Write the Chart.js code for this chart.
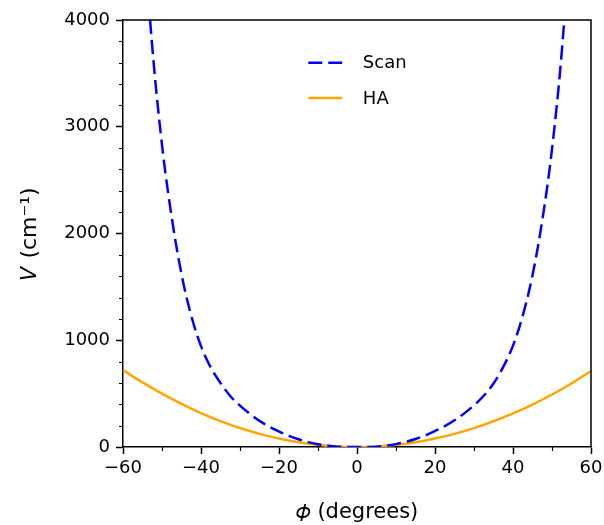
<!DOCTYPE html>
<html>
<head>
<meta charset="utf-8">
<script src="https://cdn.jsdelivr.net/npm/chart.js@4.4.1/dist/chart.umd.min.js"></script>
<style>
  html, body { margin: 0; padding: 0; background: #ffffff; }
  #wrap { width: 604px; height: 525px; position: relative; }
</style>
</head>
<body>
<div id="wrap"><canvas id="c" width="604" height="525"></canvas></div>
<script>
// ---- data ----
const phiScan = [-60,-57.5,-55,-52.5,-50,-47.5,-45,-42.5,-40,-37.5,-35,-32.5,-30,-27.5,-25,-22.5,-20,-17.5,-15,-12.5,-10,-7.5,-5,-2.5,0,2.5,5,7.5,10,12.5,15,17.5,20,22.5,25,27.5,30,32.5,35,37.5,40,42.5,45,47.5,50,52.5,55,57.5,60];
const vScan   = [8300,6500,5000,3750,2830,2150,1620,1230,945,745,600,478,388,312,245,190,145,105,72,46,25,11,3,0.5,0,0.5,3,12,27,48,75,108,150,195,250,315,390,480,595,750,950,1230,1610,2120,2790,3700,5000,6600,8500];
const phiHA   = [-60,-55,-50,-45,-40,-35,-30,-25,-20,-15,-10,-5,0,5,10,15,20,25,30,35,40,45,50,55,60];
const vHA     = [720,605,500,405,318,243,178,123,79,45,20,5,0,5,20,45,79,123,177,241,315,398,492,595,712];
const seriesNames = ['Scan', 'HA'];
const xTitle = '\u{1D719} (degrees)';
const yTitle = '\u{1D449} (cm\u207B\u00B9)';
const xMajorStep = 20, xMinorStep = 10;
const yMajorStep = 1000, yMinorStep = 200;

const FONT = "'DejaVu Sans', sans-serif";

const toXY = (xs, ys) => xs.map((x, i) => ({ x: x, y: ys[i] }));

const frameAndMinor = {
  id: 'frameAndMinor',
  afterDraw(chart) {
    const ctx = chart.ctx;
    const a = chart.chartArea;
    const xs = chart.scales.x, ys = chart.scales.y;
    ctx.save();
    ctx.strokeStyle = '#000';
    ctx.lineWidth = 1.5;
    // top and right spines
    ctx.beginPath();
    ctx.moveTo(a.left, a.top);
    ctx.lineTo(a.right, a.top);
    ctx.lineTo(a.right, a.bottom);
    ctx.stroke();
    // minor ticks
    ctx.lineWidth = 1.2;
    ctx.beginPath();
    for (let v = xs.min; v <= xs.max + 1e-9; v += xMinorStep) {
      if (Math.abs(v % xMajorStep) < 1e-9) continue;
      const px = Math.round(xs.getPixelForValue(v)) + 0.5;
      ctx.moveTo(px, a.bottom);
      ctx.lineTo(px, a.bottom + 4);
    }
    for (let v = ys.min; v <= ys.max + 1e-9; v += yMinorStep) {
      if (Math.abs(v % yMajorStep) < 1e-9) continue;
      const py = Math.round(ys.getPixelForValue(v)) + 0.5;
      ctx.moveTo(a.left, py);
      ctx.lineTo(a.left - 4, py);
    }
    ctx.stroke();
    // legend
    const lx0 = xs.getPixelForValue(-12.5), lx1 = xs.getPixelForValue(-3.8);
    const tx = xs.getPixelForValue(1.5);
    const rows = [ys.getPixelForValue(3600), ys.getPixelForValue(3270)];
    ctx.font = '18px ' + FONT;
    ctx.textBaseline = 'middle';
    ctx.fillStyle = '#000';
    chart.data.datasets.forEach((ds, i) => {
      ctx.strokeStyle = ds.borderColor;
      ctx.lineWidth = ds.borderWidth;
      ctx.setLineDash(ds.borderDash || []);
      ctx.beginPath();
      ctx.moveTo(lx0, rows[i]);
      ctx.lineTo(lx1, rows[i]);
      ctx.stroke();
      ctx.setLineDash([]);
      ctx.fillText(ds.label, tx, rows[i] + 1);
    });
    ctx.restore();
  }
};

new Chart(document.getElementById('c'), {
  type: 'line',
  data: {
    datasets: [
      {
        label: seriesNames[0],
        data: toXY(phiScan, vScan),
        borderColor: '#0000ff',
        borderWidth: 2.5,
        borderDash: [14, 6],
        pointRadius: 0,
        fill: false,
        tension: 0.35
      },
      {
        label: seriesNames[1],
        data: toXY(phiHA, vHA),
        borderColor: '#ffa500',
        borderWidth: 2.5,
        pointRadius: 0,
        fill: false,
        tension: 0.35
      }
    ]
  },
  plugins: [frameAndMinor],
  options: {
    responsive: false,
    animation: false,
    devicePixelRatio: 1,
    layout: { padding: { top: 20, right: 13, left: 0, bottom: 0 } },
    plugins: { legend: { display: false }, tooltip: { enabled: false } },
    scales: {
      x: {
        type: 'linear',
        min: -60, max: 60,
        ticks: { stepSize: xMajorStep, color: '#000', font: { family: FONT, size: 18 }, padding: 4, maxRotation: 0,
                 callback: v => String(v).replace('-', '\u2212') },
        grid: { drawOnChartArea: false, tickLength: 7, tickColor: '#000', tickWidth: 1.5 },
        border: { color: '#000', width: 1.5 },
        title: { display: true, text: xTitle, color: '#000', font: { family: FONT, size: 21 }, padding: { top: 0, bottom: 0 } },
        afterFit: s => { s.height = 78; s.paddingLeft = 0; s.paddingRight = 0; }
      },
      y: {
        min: 0, max: 4000,
        ticks: { stepSize: yMajorStep, color: '#000', font: { family: FONT, size: 18 }, padding: 6,
                 callback: v => String(v) },
        grid: { drawOnChartArea: false, tickLength: 7, tickColor: '#000', tickWidth: 1.5 },
        border: { color: '#000', width: 1.5 },
        title: { display: true, text: yTitle, color: '#000', font: { family: FONT, size: 22 }, padding: { top: 17, bottom: 0 } },
        afterFit: s => { s.width = 123; s.paddingTop = 0; s.paddingBottom = 0; }
      }
    }
  }
});
</script>
</body>
</html>
